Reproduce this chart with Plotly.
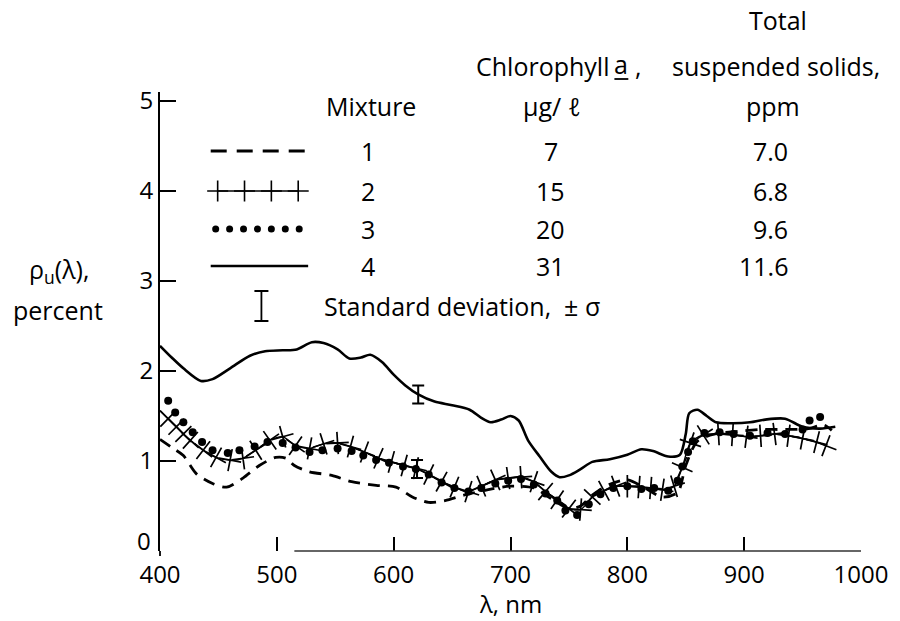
import plotly.graph_objects as go

# Upwelled reflectance spectra of four algae/sediment mixtures
# Mixture 1 (dashed)
wl_1 = [400, 410, 420, 431, 445, 457, 471, 485, 499, 508, 515, 528, 547, 564, 585, 602,
        616, 630, 644, 660, 680, 700, 720, 735, 750, 760, 770, 785, 800, 815, 830, 843,
        850, 860, 875, 895, 915, 935, 955, 968, 975]
rho_1 = [1.24, 1.15, 1.06, 0.86, 0.75, 0.71, 0.81, 0.95, 1.04, 1.03, 0.95, 0.88, 0.84, 0.77, 0.73, 0.71,
         0.60, 0.54, 0.56, 0.62, 0.68, 0.72, 0.70, 0.58, 0.47, 0.50, 0.62, 0.74, 0.79, 0.70, 0.60, 0.65,
         0.95, 1.22, 1.30, 1.33, 1.35, 1.35, 1.36, 1.40, 1.34]

# Mixture 2 (line with crosses)
wl_2 = [400, 407, 414, 420, 426, 437, 448, 460, 471, 482, 494, 505, 516, 528, 540, 552,
        563, 575, 587, 598, 609, 619, 630, 641, 652, 664, 675, 687, 698, 709, 720, 730,
        740, 750, 760, 770, 780, 790, 800, 810, 820, 830, 840, 847, 854, 865, 878, 890,
        902, 914, 926, 938, 950, 962, 970]
rho_2 = [1.56, 1.47, 1.38, 1.30, 1.23, 1.12, 1.04, 1.01, 1.03, 1.12, 1.23, 1.27, 1.17, 1.14, 1.19, 1.20,
         1.16, 1.10, 1.03, 0.99, 0.95, 0.92, 0.85, 0.77, 0.71, 0.66, 0.72, 0.79, 0.81, 0.82, 0.77, 0.66,
         0.57, 0.47, 0.46, 0.60, 0.67, 0.72, 0.72, 0.71, 0.70, 0.68, 0.72, 0.93, 1.20, 1.29, 1.30, 1.29,
         1.27, 1.28, 1.30, 1.28, 1.25, 1.21, 1.17]

# Mixture 3 (dots)
wl_3 = [407, 413, 420, 428, 436, 445, 458, 468, 481, 492, 505, 516, 528, 539, 552, 564,
        574, 585, 596, 608, 619, 630, 641, 652, 664, 675, 687, 698, 709, 720, 730, 740,
        747, 757, 767, 777, 788, 800, 812, 823, 835, 843, 847, 852, 856, 866, 879, 891,
        905, 920, 935, 950, 956, 965]
rho_3 = [1.67, 1.54, 1.43, 1.32, 1.21, 1.12, 1.09, 1.12, 1.16, 1.21, 1.20, 1.15, 1.10, 1.12, 1.14, 1.11,
         1.06, 1.01, 0.98, 0.94, 0.91, 0.85, 0.76, 0.70, 0.66, 0.70, 0.75, 0.78, 0.80, 0.74, 0.64, 0.56,
         0.45, 0.40, 0.52, 0.63, 0.70, 0.72, 0.69, 0.70, 0.67, 0.78, 0.94, 1.10, 1.22, 1.31, 1.32, 1.30,
         1.28, 1.31, 1.30, 1.35, 1.45, 1.49]

# Mixture 4 (solid)
wl_4 = [400, 410, 420, 435, 445, 460, 477, 490, 505, 517, 530, 540, 552, 562, 572, 580,
        590, 600, 610, 621, 635, 650, 665, 675, 683, 692, 700, 707, 715, 725, 735, 742,
        750, 760, 770, 785, 800, 812, 822, 835, 845, 850, 853, 860, 868, 876, 890, 905,
        918, 935, 950, 965, 978]
rho_4 = [2.28, 2.15, 2.03, 1.89, 1.91, 2.03, 2.17, 2.22, 2.23, 2.24, 2.32, 2.31, 2.24, 2.14, 2.15, 2.18,
         2.10, 1.96, 1.84, 1.74, 1.66, 1.62, 1.57, 1.48, 1.43, 1.46, 1.50, 1.45, 1.23, 1.05, 0.88, 0.82,
         0.84, 0.91, 0.99, 1.02, 1.07, 1.13, 1.11, 1.05, 1.07, 1.30, 1.53, 1.57, 1.50, 1.43, 1.42, 1.43,
         1.46, 1.47, 1.38, 1.36, 1.38]

# Standard deviation bars
sd_wl = [621, 620]
sd_rho = [1.74, 0.91]
sd_sigma = [0.10, 0.10]

# Legend table
mixtures = ["1", "2", "3", "4"]
chlorophyll = ["7", "15", "20", "31"]
tss = ["7.0", "6.8", "9.6", "11.6"]

x_ticks = [400, 500, 600, 700, 800, 900, 1000]
y_ticks = [1, 2, 3, 4, 5]

# ---- layout geometry (pixels) ----
W, H = 900, 621
L, R, T, B = 160, 35, 92, 70
X0, X1 = 400, 1000
Y0, Y1 = 0, 5.1
FONT = "Open Sans, Liberation Sans, sans-serif"
FS = 25
FS_TICK = 24


def px(x):
    return (x - L) / (W - L - R)


def py(y):
    return (H - B - y) / (H - T - B)


def dx(p):
    return X0 + (p - L) / (W - L - R) * (X1 - X0)


def dy(p):
    return Y1 - (p - T) / (H - T - B) * (Y1 - Y0)


fig = go.Figure()

spline = dict(shape="spline", smoothing=0.8)

fig.add_trace(go.Scatter(x=wl_1, y=rho_1, mode="lines", cliponaxis=False,
                         line=dict(color="black", width=2.8, dash="12px,8px", **spline)))
fig.add_trace(go.Scatter(x=wl_4, y=rho_4, mode="lines", cliponaxis=False,
                         line=dict(color="black", width=2.6, **spline)))
fig.add_trace(go.Scatter(x=wl_2, y=rho_2, mode="lines+markers", cliponaxis=False,
                         line=dict(color="black", width=1.4, **spline),
                         marker=dict(symbol="cross-thin", size=16, angleref="previous",
                                     color="black", line=dict(width=1.7, color="black"))))
fig.add_trace(go.Scatter(x=wl_3, y=rho_3, mode="markers", cliponaxis=False,
                         marker=dict(symbol="circle", size=8, color="black")))
fig.add_trace(go.Scatter(x=sd_wl, y=sd_rho, mode="markers",
                         marker=dict(size=2, color="rgba(0,0,0,0)"),
                         error_y=dict(type="data", array=sd_sigma, thickness=2, width=6, color="black")))

# ---- legend glyphs ----
row_y = [151, 191, 229, 266]
fig.add_trace(go.Scatter(x=[dx(211), dx(309)], y=[dy(row_y[0])] * 2, mode="lines",
                         line=dict(color="black", width=2.8, dash="16px,10px")))
plus_x = [218, 245, 272, 299]
fig.add_trace(go.Scatter(x=[dx(p) for p in plus_x], y=[dy(row_y[1])] * 4, mode="lines+markers",
                         line=dict(color="black", width=1.3),
                         marker=dict(symbol="cross-thin", size=15, line=dict(width=1.6, color="black"))))
dot_x = [216, 230, 244, 258, 272, 286, 300]
fig.add_trace(go.Scatter(x=[dx(p) for p in dot_x], y=[dy(row_y[2])] * 7, mode="markers",
                         marker=dict(symbol="circle", size=7, color="black")))
fig.add_trace(go.Scatter(x=[dx(211), dx(309)], y=[dy(row_y[3])] * 2, mode="lines",
                         line=dict(color="black", width=2.6)))
fig.add_trace(go.Scatter(x=[dx(262)], y=[dy(306)], mode="markers",
                         marker=dict(size=2, color="rgba(0,0,0,0)"),
                         error_y=dict(type="data", array=[dy(291) - dy(306)], thickness=1.8,
                                      width=7, color="black")))

ann = []


def text(s, x, y, anchor="center", size=FS):
    ann.append(dict(text=s, x=px(x), y=py(y), xref="paper", yref="paper",
                    xanchor=anchor, yanchor="middle", showarrow=False,
                    font=dict(family=FONT, size=size, color="black")))


text("Total", 782, 20)
text("Chlorophyll", 614, 66, anchor="right")
text("a", 624, 64)
text(",", 641, 66)
text("suspended solids,", 780, 66)
text("Mixture", 372, 106)
text("µg/ ℓ", 554, 106)
text("ppm", 777, 106)
for i in range(4):
    text(mixtures[i], 369, row_y[i])
    text(chlorophyll[i], 553, row_y[i])
    text(tss[i], 794, row_y[i], anchor="right")
text("Standard deviation,  ± σ", 323, 306, anchor="left")
text("ρ<sub>u</sub>(λ),", 58, 270)
text("percent", 57, 310)
text("λ, nm", 512, 603, size=24)
text("0", 144, 540, size=FS_TICK)

fig.update_layout(
    width=W, height=H,
    margin=dict(l=L, r=R, t=T, b=B, pad=0),
    paper_bgcolor="white", plot_bgcolor="white",
    showlegend=False,
    annotations=ann,
    shapes=[
        # underline beneath "a"
        dict(type="line", xref="paper", yref="paper", x0=px(617), x1=px(631),
             y0=py(79), y1=py(79), line=dict(color="black", width=1.8)),
        # baseline of the wavelength axis
        dict(type="line", xref="x", yref="paper", x0=515, x1=1000, y0=0, y1=0,
             line=dict(color="#333", width=1.4)),
        # lower stub of the reflectance axis
        dict(type="line", xref="paper", yref="paper", x0=0, x1=0, y0=0, y1=py(556),
             line=dict(color="black", width=1.8)),
    ],
    xaxis=dict(range=[X0, X1], tickvals=x_ticks, ticks="inside", ticklen=14, tickwidth=1.5,
               tickcolor="black", showline=False, showgrid=False, zeroline=False,
               ticklabelstandoff=7,
               tickfont=dict(family=FONT, size=FS_TICK, color="black")),
    yaxis=dict(range=[Y0, Y1], tickvals=y_ticks, ticks="inside", ticklen=16, tickwidth=1.5,
               tickcolor="black", showline=True, linecolor="black", linewidth=1.8,
               showgrid=False, zeroline=False,
               tickfont=dict(family=FONT, size=FS_TICK, color="black")),
)

fig.write_html("out.html")
